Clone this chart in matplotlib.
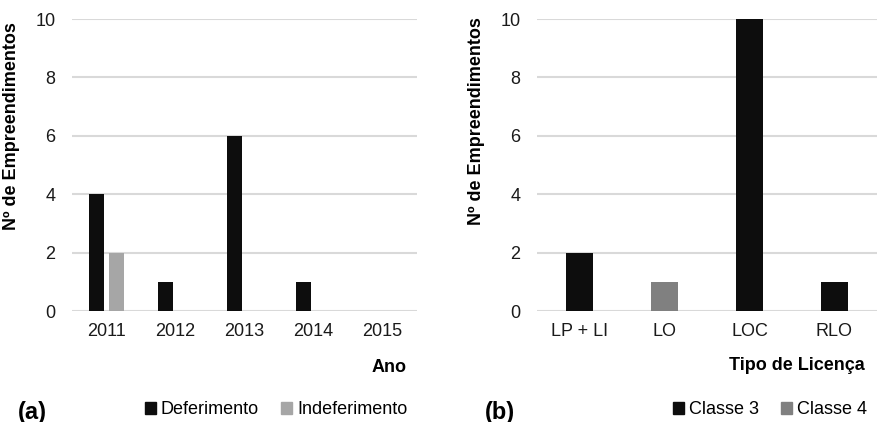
import matplotlib.pyplot as plt
from matplotlib.patches import Patch

plt.rcParams['font.family'] = ['Liberation Sans', 'DejaVu Sans']
plt.rcParams['font.size'] = 13

# (a) por ano
anos = ['2011', '2012', '2013', '2014', '2015']
deferimento = [4, 1, 6, 1, 0]
indeferimento = [2, 0, 0, 0, 0]

# (b) por tipo de licenca
licencas = ['LP + LI', 'LO', 'LOC', 'RLO']
licenca_vals = [2, 1, 10, 1]
licenca_classe = ['Classe 3', 'Classe 4', 'Classe 3', 'Classe 3']

cores = {'Deferimento': '#0d0d0d', 'Indeferimento': '#a6a6a6',
         'Classe 3': '#0d0d0d', 'Classe 4': '#808080'}

W, H = 878, 422
fig = plt.figure(figsize=(W / 100, H / 100), dpi=100)


def style_axes(ax):
    for s in ax.spines.values():
        s.set_visible(False)
    ax.set_ylim(0, 10)
    ax.set_yticks(range(0, 11, 2))
    ax.yaxis.grid(True, color='#d9d9d9', linewidth=1.5)
    ax.set_axisbelow(True)
    ax.tick_params(axis='both', length=0, labelcolor='#1a1a1a')
    ax.tick_params(axis='y', pad=12)
    ax.tick_params(axis='x', pad=9)


ax1 = fig.add_axes([72 / W, (H - 311) / H, 345 / W, 292 / H])
style_axes(ax1)
x = range(len(anos))
ax1.bar([i - 0.145 for i in x], deferimento, 0.23, color=cores['Deferimento'])
ax1.bar([i + 0.145 for i in x], indeferimento, 0.23, color=cores['Indeferimento'])
ax1.set_xlim(-0.5, len(anos) - 0.5)
ax1.set_xticks(list(x))
ax1.set_xticklabels(anos)
ax1.set_ylabel('Nº de Empreendimentos', fontweight='bold')
ax1.yaxis.set_label_coords(-0.15, 0.632)

ax2 = fig.add_axes([537 / W, (H - 311) / H, 340 / W, 292 / H])
style_axes(ax2)
x2 = range(len(licencas))
ax2.bar(list(x2), licenca_vals, 0.32, color=[cores[c] for c in licenca_classe])
ax2.set_xlim(-0.5, len(licencas) - 0.5)
ax2.set_xticks(list(x2))
ax2.set_xticklabels(licencas)
ax2.set_ylabel('Nº de Empreendimentos', fontweight='bold')
ax2.yaxis.set_label_coords(-0.153, 0.649)

fig.text(407 / W, 1 - 367 / H, 'Ano', ha='right', va='center', fontweight='bold')
fig.text(865 / W, 1 - 365 / H, 'Tipo de Licença', ha='right', va='center', fontweight='bold')
fig.text(18 / W, 1 - 412 / H, '(a)', ha='left', va='center', fontweight='bold', fontsize=17)
fig.text(485 / W, 1 - 412 / H, '(b)', ha='left', va='center', fontweight='bold', fontsize=17)

leg_kw = dict(ncol=2, frameon=False, handlelength=0.6, handleheight=0.6,
              handletextpad=0.3, columnspacing=1.2, loc='center',
              bbox_transform=fig.transFigure, borderaxespad=0)
fig.legend(handles=[Patch(color=cores['Deferimento'], label='Deferimento'),
                    Patch(color=cores['Indeferimento'], label='Indeferimento')],
           bbox_to_anchor=(276 / W, 1 - 410 / H), **leg_kw)
fig.legend(handles=[Patch(color=cores['Classe 3'], label='Classe 3'),
                    Patch(color=cores['Classe 4'], label='Classe 4')],
           bbox_to_anchor=(770 / W, 1 - 410 / H), **leg_kw)

fig.savefig('out.png', dpi=100)
